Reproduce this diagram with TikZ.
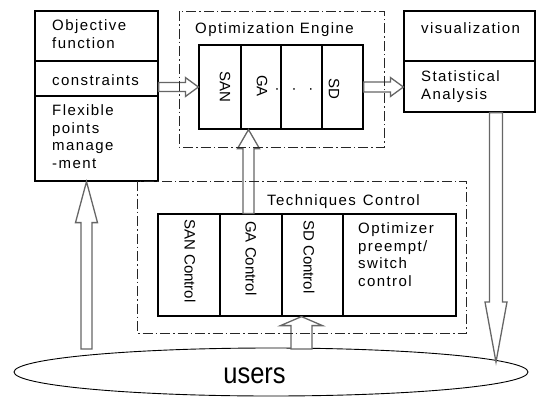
\documentclass[tikz,border=0pt]{standalone}
\usepackage{fontspec}
\setmainfont{Liberation Sans}
\newfontfamily\widefont{Liberation Sans}[LetterSpace=9.5]
\usetikzlibrary{calc,shapes.geometric}

% hollow block arrow: start, tip, half shaft width, half head width, head length
\newcommand\hollowarrow[5]{%
  \path ($(#2)!#5!(#1)$) coordinate (hb);
  \draw[blockarrow] ($(#1)!#3!90:(#2)$) -- ($(hb)!#3!90:(#2)$) -- ($(hb)!#4!90:(#2)$)
    -- (#2) -- ($(hb)!#4!-90:(#2)$) -- ($(hb)!#3!-90:(#2)$) -- ($(#1)!#3!-90:(#2)$) -- cycle;
}

\begin{document}
\begin{tikzpicture}[x=1pt,y=-1pt,
  box/.style={draw=black, line width=1.2pt, inner sep=0pt, rectangle},
  frame/.style={draw=black!85, line width=0.9pt, dash pattern=on 10pt off 3pt on 1.5pt off 3pt},
  blockarrow/.style={draw=black!60, line width=1.3pt, fill=white, line join=miter},
  lbl/.style={anchor=north west, inner sep=0pt, align=left,
    font=\widefont\fontsize{15}{17.5}\selectfont},
  vlbl/.style={inner sep=0pt, rotate=-90, font=\fontsize{15}{17.5}\selectfont},
]
\useasboundingbox (0,0) rectangle (536,397);

% left column of boxes
\node[box, minimum width=123pt, minimum height=50pt] (obj) at (96.5,36) {};
\node[box, minimum width=123pt, minimum height=35pt] (cons) at (96.5,78.5) {};
\node[box, minimum width=123pt, minimum height=85pt] (flex) at (96.5,138.5) {};
\node[lbl] (objtxt) at (52,19.5) {Objective\\function};
\node[lbl] (constxt) at (52,74) {constraints};
\node[lbl] (flextxt) at (52,104.5) {Flexible\\points\\manage\\-ment};

% optimization engine
\node[box, minimum width=42pt, minimum height=84pt] (san) at (220,87) {};
\node[box, minimum width=40pt, minimum height=84pt] (ga) at (261,87) {};
\node[box, minimum width=41pt, minimum height=84pt] (etc) at (301.5,87) {};
\node[box, minimum width=41pt, minimum height=84pt] (sd) at (342.5,87) {};
\node[vlbl] (santxt) at (225,87) {SAN};
\node[vlbl] (gatxt) at (262,86) {GA};
\node[vlbl] (sdtxt) at (334,89) {SD};
\node[inner sep=0pt, anchor=base, font=\fontsize{15}{17.5}\selectfont] (dots) at (294,93) {·\hspace{12pt}·\hspace{12pt}·};
\node[lbl] (engtxt) at (195,22.5) {Optimization Engine};

% output boxes
\node[box, minimum width=131pt, minimum height=50pt] (vis) at (469.5,36) {};
\node[box, minimum width=131pt, minimum height=51pt] (stat) at (469.5,86.5) {};
\node[lbl] (vistxt) at (421,22.5) {visualization};
\node[lbl] (stattxt) at (421,70.5) {Statistical\\Analysis};

% techniques control
\node[box, minimum width=62pt, minimum height=102pt] (sanctl) at (189,265) {};
\node[box, minimum width=62pt, minimum height=102pt] (gactl) at (251,265) {};
\node[box, minimum width=61pt, minimum height=102pt] (sdctl) at (312.5,265) {};
\node[box, minimum width=113pt, minimum height=102pt] (optctl) at (399.5,265) {};
\node[vlbl, anchor=west] (sanctltxt) at (190,219) {SAN Control};
\node[vlbl, anchor=west] (gactltxt) at (251,221) {GA Control};
\node[vlbl, anchor=west] (sdctltxt) at (309,220) {SD Control};
\node[lbl] (opttxt) at (358,222.5) {Optimizer\\preempt/\\switch\\control};
\node[lbl] (techtxt) at (267,194.5) {Techniques\hspace{7pt}Control};

% users
\node[draw=black, line width=0.9pt, ellipse, minimum width=514pt, minimum height=48pt, inner sep=0pt] (users) at (271,372) {};
\node[inner sep=0pt, anchor=base, font=\fontsize{25.5}{30}\selectfont] (userstxt) at (254.5,383) {\scalebox{1}[1.15]{users}};

% block arrows
\coordinate (a1s) at (cons.east |- san.west);
\coordinate (a2e) at (stat.west |- sd.east);
\coordinate (a3s) at ([xshift=-2.5pt]gactl.north);
\coordinate (a3e) at (a3s |- ga.south);
\coordinate (a4e) at ([xshift=-10pt]flex.south);
\coordinate (a4s) at (86.5,349);
\coordinate (a5s) at ([xshift=26.5pt]stat.south);
\coordinate (a5e) at (496,362);
\coordinate (a6s) at (301.5,349);
\coordinate (a6e) at ([xshift=-11pt]sdctl.south);
\hollowarrow{a1s}{san.west}{4.5pt}{9.5pt}{13pt}
\hollowarrow{sd.east}{a2e}{5pt}{9.5pt}{13pt}
\hollowarrow{a3s}{a3e}{5.5pt}{11pt}{19pt}
\hollowarrow{a4s}{a4e}{5.5pt}{11pt}{41pt}
\hollowarrow{a5s}{a5e}{6.5pt}{11pt}{60pt}
\hollowarrow{a6s}{a6e}{10.5pt}{21pt}{9pt}

% dash-dotted group frames
\draw[frame] (179,11) rectangle (384,147);
\draw[frame] (137,181) rectangle (466,333);
\end{tikzpicture}
\end{document}
